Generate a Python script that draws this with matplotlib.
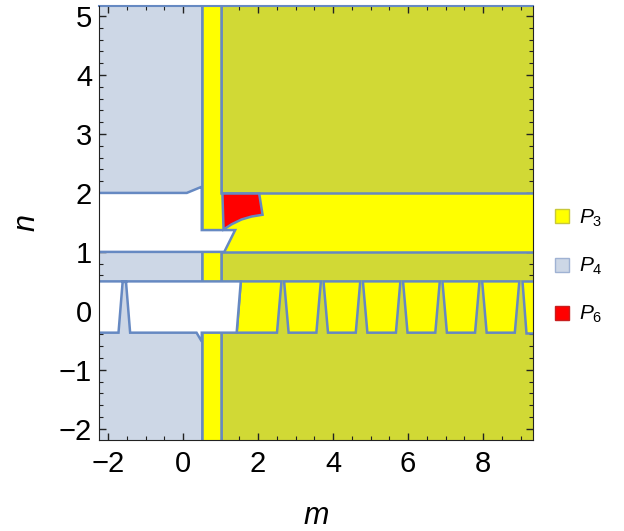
import numpy as np
import matplotlib
matplotlib.use("Agg")
import matplotlib.pyplot as plt
from matplotlib.patches import Polygon, Rectangle

plt.rcParams['font.family'] = ['Liberation Sans', 'DejaVu Sans']
plt.rcParams['mathtext.fontset'] = 'custom'
plt.rcParams['mathtext.it'] = 'Liberation Sans:italic'
plt.rcParams['mathtext.rm'] = 'Liberation Sans'

# plot range
m_range = (-2.24, 9.33)
n_range = (-2.19, 5.17)

# region boundaries
strip_m = (0.5, 1.0)          # vertical P3 strip
upper_band_n = (1.0, 2.0)     # P3 band
lower_band_n = (-0.37, 0.5)   # band with trapezoids
first_trap_m = (1.54, 1.43)   # left edge of first trapezoid (top, bottom)
spike_m = [2.66, 3.71, 4.76, 5.83, 6.88, 7.94, 9.0]
spike_top_hw = 0.035
spike_base_hw = 0.155
left_spike_m = -1.565
left_spike_top_hw = 0.045

# white (no phase) gaps
gap_upper_m = [-3.0, 0.1, 0.48, 0.5, 0.5, 1.39, 1.1, -3.0]
gap_upper_n = [2.0, 2.0, 2.1, 2.1, 1.37, 1.37, 1.0, 1.0]
gap_lower_m = [-3.0, 1.54, 1.43, 0.5, 0.5, 0.36, -3.0]
gap_lower_n = [0.5, 0.5, -0.37, -0.37, -0.52, -0.37, -0.37]

# P6 region
p6_m = [1.05, 2.03, 2.12, 1.83, 1.56, 1.30, 1.08]
p6_n = [1.99, 1.99, 1.63, 1.60, 1.55, 1.47, 1.38]

legend_labels = ['$P_3$', '$P_4$', '$P_6$']
legend_colors = ['#ffff00', '#cdd7e6', '#ff0000']
legend_edges = ['#c8c83a', '#9fb2d3', '#c81e1e']

c_p3 = '#ffff00'
c_p4 = '#cdd7e6'
c_both = '#d1d935'
c_p6 = '#ff0000'
c_line = '#6689c2'
lw = 1.8

fig = plt.figure(figsize=(6.24, 5.31), dpi=100)
ax = fig.add_axes([99 / 624, 1 - 440 / 531, 434 / 624, 434 / 531])
ax.set_xlim(*m_range)
ax.set_ylim(*n_range)

lo, hi = -3.0, 10.0
nlo, nhi = -3.0, 6.0


def poly(ms, ns, color, z):
    ax.add_patch(Polygon(np.column_stack([ms, ns]), closed=True, facecolor=color,
                         edgecolor=c_line, lw=lw, joinstyle='miter', zorder=z))


# P4 on the left, overlap on the right
poly([lo, strip_m[0], strip_m[0], lo], [nlo, nlo, nhi, nhi], c_p4, 1)
poly([strip_m[1], hi, hi, strip_m[1]], [nlo, nlo, nhi, nhi], c_both, 1)

# P3 strip + upper band
poly([strip_m[0], strip_m[1], strip_m[1], hi, hi, strip_m[1], strip_m[1], strip_m[0]],
     [nlo, nlo, upper_band_n[0], upper_band_n[0], upper_band_n[1], upper_band_n[1], nhi, nhi],
     c_p3, 2)

# trapezoids in the lower band
lefts = [first_trap_m] + [(c + spike_top_hw, c + spike_base_hw) for c in spike_m]
rights = [(c - spike_top_hw, c - spike_base_hw) for c in spike_m] + [(hi, hi)]
for (lt, lb), (rt, rb) in zip(lefts, rights):
    poly([lt, rt, rb, lb], [lower_band_n[1], lower_band_n[1], lower_band_n[0], lower_band_n[0]],
         c_p3, 3)

# white gaps
poly(gap_upper_m, gap_upper_n, 'white', 4)
lm = list(gap_lower_m)
ln = list(gap_lower_n)
lm[6:6] = [left_spike_m + spike_base_hw, left_spike_m + left_spike_top_hw,
           left_spike_m - left_spike_top_hw, left_spike_m - spike_base_hw]
ln[6:6] = [lower_band_n[0], lower_band_n[1] - 0.01, lower_band_n[1] - 0.01, lower_band_n[0]]
poly(lm, ln, 'white', 4)

# P6
poly(p6_m, p6_n, c_p6, 5)

ax.set_xticks(np.arange(-2, 9, 2))
ax.set_xticks(np.arange(-2, 9.5, 0.5), minor=True)
ax.set_yticks(np.arange(-2, 6, 1))
ax.set_yticks(np.arange(-2, 5.2, 0.2), minor=True)
ax.tick_params(which='both', direction='in', top=True, right=True, labelsize=21, color='#222222')
ax.tick_params(axis='x', which='major', pad=7)
ax.tick_params(axis='y', which='major', pad=5)
ax.tick_params(which='major', length=5, width=1)
ax.tick_params(which='minor', length=3, width=0.8)
for s in ['left', 'bottom', 'right']:
    ax.spines[s].set_color('#222222')
    ax.spines[s].set_zorder(10)
ax.spines['top'].set_color(c_line)
ax.spines['top'].set_linewidth(1.5)

ax.set_xlabel('$m$', fontsize=22, labelpad=17)
ax.set_ylabel('$n$', fontsize=22, labelpad=12)

# legend
ys = [216, 264.5, 312.5]
for lab, fc, ec, y in zip(legend_labels, legend_colors, legend_edges, ys):
    fig.add_artist(Rectangle((555 / 624, 1 - (y + 7) / 531), 14 / 624, 14 / 531,
                             facecolor=fc, edgecolor=ec, lw=1, transform=fig.transFigure))
    fig.text(579 / 624, 1 - (y + 2) / 531, lab, fontsize=15, va='center', ha='left')

fig.savefig('out.png', dpi=100)
